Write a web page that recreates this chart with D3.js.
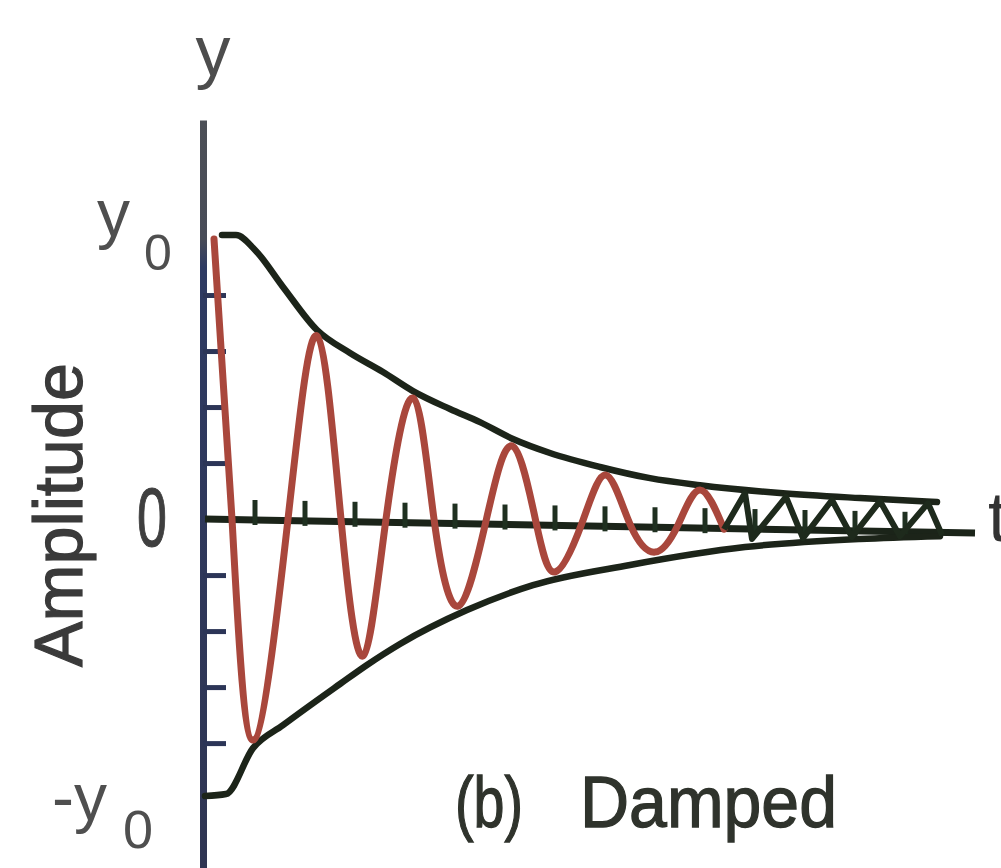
<!DOCTYPE html>
<html>
<head>
<meta charset="utf-8">
<script src="https://cdn.jsdelivr.net/npm/d3@7"></script>
<style>
  html, body { margin: 0; padding: 0; background: #ffffff; }
  svg { display: block; }
  text { font-family: "Liberation Sans", Arial, Helvetica, sans-serif; }
</style>
</head>
<body>
<svg id="chart" width="1001" height="868"></svg>
<script>
// Damped oscillation: displacement y against time t (y in units of y0).

// Oscillating displacement: extremes and zero crossings along the trace
const waveT = [0.18, 0.54, 0.96, 1.66, 2.24, 2.72, 3.16, 3.62, 4.16, 4.58, 5.06,
               5.62, 6.14, 6.62, 7.0, 7.54, 8.02, 8.5, 9.0, 9.46, 9.9, 10.38];
const waveV = [1.0, 0, -0.789, 0, 0.654, 0, -0.489, 0, 0.432, 0, -0.311,
               -0.007, 0.261, -0.011, -0.189, -0.014, 0.157, -0.018, -0.118, -0.021, 0.104, -0.036];

// Late, small swings where the trace runs into the axis
const tailT = [10.38, 10.8, 10.94, 11.62, 11.96, 12.54, 12.94, 13.5, 13.9, 14.46, 14.74];
const tailV = [-0.036, 0.093, -0.071, 0.079, -0.068, 0.068, -0.064, 0.064, -0.061, 0.057, -0.057];

// Upper decay envelope (+y0 e^{-bt})
const envTopT = [0.34, 0.62, 1.0, 1.56, 2.24, 2.9, 3.56, 4.16, 4.9, 5.5, 6.16, 6.9, 7.9, 8.9, 9.9, 11.5, 13.1, 14.64];
const envTopV = [1.014, 1.014, 0.961, 0.829, 0.675, 0.593, 0.525, 0.457, 0.393, 0.346, 0.286, 0.236, 0.186, 0.146, 0.121, 0.093, 0.075, 0.061];

// Lower decay envelope (-y0 e^{-bt})
const envBotT = [0.0, 0.42, 0.96, 1.56, 2.7, 3.24, 3.9, 5.24, 6.56, 8.5, 10.8, 13.1, 14.7];
const envBotV = [-0.989, -0.982, -0.818, -0.736, -0.589, -0.521, -0.446, -0.325, -0.236, -0.164, -0.1, -0.071, -0.061];

// Time axis line (runs slightly downhill to the right)
const axisT = [0, 15.4];
const axisV = [0, -0.05];

// Tick positions
const tTicks = [1, 2, 3, 4, 5, 6, 7, 8, 9, 10, 11, 12, 13, 14];
const yTicks = [-0.8, -0.6, -0.4, -0.2, 0.2, 0.4, 0.6, 0.8];

// Labels
const yLabels = [
  { v: 1, sign: "", sub: "0" },
  { v: -1, sign: "-", sub: "0" }
];

const svg = d3.select("#chart");

const x = d3.scaleLinear().domain([0, 15.92]).range([205, 1001]);
const y = d3.scaleLinear().domain([-1.246, 1.425]).range([868, 120]);

const zip = (ts, vs) => ts.map((t, i) => [t, vs[i]]);
const axisY = t => y(axisV[0] + (axisV[1] - axisV[0]) * (t - axisT[0]) / (axisT[1] - axisT[0]));

// Vertical axis shading: grey above y0, navy below
const defs = svg.append("defs");
const grad = defs.append("linearGradient")
  .attr("id", "yAxisGrad").attr("gradientUnits", "userSpaceOnUse")
  .attr("x1", 0).attr("x2", 0).attr("y1", y.range()[1]).attr("y2", y.range()[0]);
grad.append("stop").attr("offset", "0%").attr("stop-color", "#4c4f56");
grad.append("stop").attr("offset", ((y(1) - 120) / 748 * 100) + "%").attr("stop-color", "#484c58");
grad.append("stop").attr("offset", ((y(0.9) - 120) / 748 * 100) + "%").attr("stop-color", "#2e3a62");
grad.append("stop").attr("offset", "100%").attr("stop-color", "#2f3552");

// y axis with short ticks to the right of the line
const yAxis = d3.axisRight(y).tickValues(yTicks).tickSize(23).tickSizeOuter(0).tickFormat("");
const gy = svg.append("g").attr("transform", `translate(${x(0) - 2},0)`).call(yAxis);
gy.select(".domain").attr("stroke", "url(#yAxisGrad)").attr("stroke-width", 7);
gy.selectAll(".tick line").attr("stroke", "#2c3557").attr("stroke-width", 5);

// Time axis line and its ticks
const lineGen = d3.line().x(d => x(d[0])).y(d => y(d[1]));
svg.append("path")
  .datum(zip(axisT, axisV))
  .attr("d", lineGen)
  .attr("fill", "none").attr("stroke", "#1b2419").attr("stroke-width", 7);

svg.append("g").selectAll("line")
  .data(tTicks).join("line")
  .attr("x1", d => x(d)).attr("x2", d => x(d))
  .attr("y1", d => axisY(d) + 5).attr("y2", d => axisY(d) - 20)
  .attr("stroke", "#1f3020").attr("stroke-width", 5);

// Envelopes
const smooth = d3.line().x(d => x(d[0])).y(d => y(d[1])).curve(d3.curveMonotoneX);
svg.append("path")
  .datum(zip(envTopT, envTopV))
  .attr("d", smooth)
  .attr("fill", "none").attr("stroke", "#1c2419").attr("stroke-width", 6.5)
  .attr("stroke-linecap", "round").attr("stroke-linejoin", "round");
svg.append("path")
  .datum(zip(envBotT, envBotV))
  .attr("d", smooth)
  .attr("fill", "none").attr("stroke", "#1c2419").attr("stroke-width", 6.5)
  .attr("stroke-linecap", "round").attr("stroke-linejoin", "round");

// Oscillation trace (natural spline through the extremes and crossings)
const wave = d3.line().x(d => x(d[0])).y(d => y(d[1])).curve(d3.curveNatural);
svg.append("path")
  .datum(zip(waveT, waveV))
  .attr("d", wave)
  .attr("fill", "none").attr("stroke", "#a9473c").attr("stroke-width", 7)
  .attr("stroke-linecap", "round").attr("stroke-linejoin", "round");

svg.append("path")
  .datum(zip(tailT, tailV))
  .attr("d", lineGen)
  .attr("fill", "none").attr("stroke", "#1e2a1c").attr("stroke-width", 6)
  .attr("stroke-linejoin", "round");

// Axis names
svg.append("text")
  .attr("x", x(0) + 8).attr("y", 75)
  .attr("text-anchor", "middle")
  .attr("font-size", 70).attr("fill", "#4d4d4d")
  .text("y");

svg.append("text")
  .attr("x", 988).attr("y", 541)
  .attr("font-size", 70).attr("fill", "#333")
  .text("t");

svg.append("text")
  .attr("transform", `translate(82,${y(0) - 4}) rotate(-90)`)
  .attr("text-anchor", "middle")
  .attr("font-size", 68).attr("fill", "#3a3a3a")
  .attr("stroke", "#3a3a3a").attr("stroke-width", 1.2)
  .attr("textLength", 304).attr("lengthAdjust", "spacingAndGlyphs")
  .text("Amplitude");

// Zero label
svg.append("text")
  .attr("transform", `translate(152,${y(0) + 27}) scale(0.64,1)`)
  .attr("text-anchor", "middle")
  .attr("font-size", 84).attr("fill", "#3f3f3f")
  .attr("stroke", "#3f3f3f").attr("stroke-width", 1.2)
  .text("0");

// +y0 and -y0 labels
const lab = svg.append("g").selectAll("text")
  .data(yLabels).join("text")
  .attr("fill", "#4f4f4f")
  .attr("x", d => d.v > 0 ? 97 : 52)
  .attr("y", d => d.v > 0 ? y(d.v) - 3 : y(d.v) + 21);
lab.append("tspan")
  .attr("font-size", 66)
  .text(d => d.sign + "y");
lab.append("tspan")
  .attr("font-size", d => d.v > 0 ? 50 : 54)
  .attr("dx", d => d.v > 0 ? 14 : 16)
  .attr("dy", d => d.v > 0 ? 34 : 28)
  .text(d => d.sub);

// Caption
svg.append("text")
  .attr("x", 455).attr("y", 827)
  .attr("font-size", 72).attr("fill", "#2f332c")
  .attr("stroke", "#2f332c").attr("stroke-width", 1.3)
  .attr("textLength", 68).attr("lengthAdjust", "spacingAndGlyphs")
  .text("(b)");
svg.append("text")
  .attr("x", 580).attr("y", 827)
  .attr("font-size", 72).attr("fill", "#2f332c")
  .attr("stroke", "#2f332c").attr("stroke-width", 1.3)
  .attr("textLength", 257).attr("lengthAdjust", "spacingAndGlyphs")
  .text("Damped");
</script>
</body>
</html>
